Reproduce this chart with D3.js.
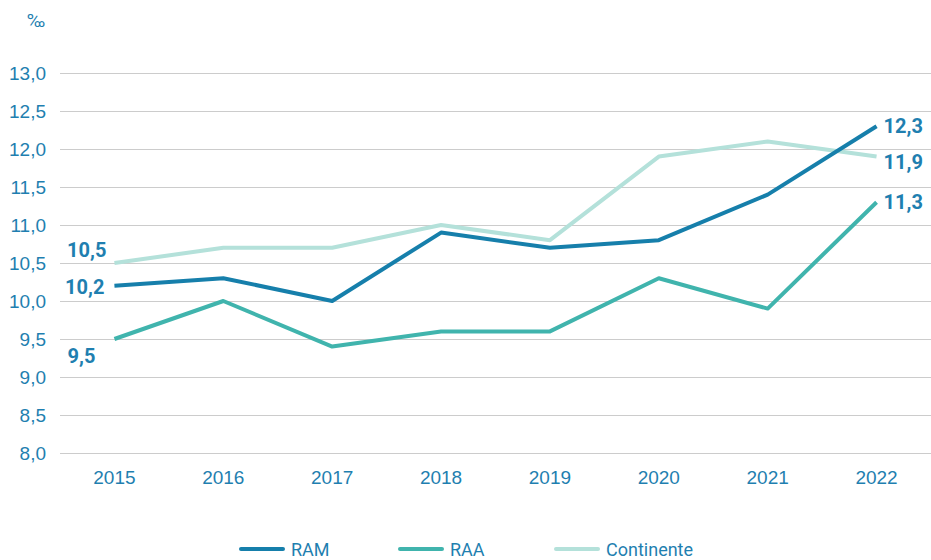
<!DOCTYPE html>
<html>
<head>
<meta charset="utf-8">
<script src="https://cdn.jsdelivr.net/npm/d3@7"></script>
<style>
  body { margin: 0; background: #fff; }
  svg { font-family: Roboto, sans-serif; }
  .tick text { fill: #1f7fb0; }
</style>
</head>
<body>
<svg width="931" height="560"></svg>
<script>
// data
const years = ["2015", "2016", "2017", "2018", "2019", "2020", "2021", "2022"];
const ram = [10.2, 10.3, 10.0, 10.9, 10.7, 10.8, 11.4, 12.3];
const raa = [9.5, 10.0, 9.4, 9.6, 9.6, 10.3, 9.9, 11.3];
const continente = [10.5, 10.7, 10.7, 11.0, 10.8, 11.9, 12.1, 11.9];
const yTicks = [8.0, 8.5, 9.0, 9.5, 10.0, 10.5, 11.0, 11.5, 12.0, 12.5, 13.0];

const series = [
    { name: "RAM", values: ram, color: "#167fab" },
    { name: "RAA", values: raa, color: "#40b4ad" },
    { name: "Continente", values: continente, color: "#b4e1da" }
];

const svg = d3.select("svg");
const textColor = "#1f7fb0";
const fmt = v => d3.format(".1f")(v).replace(".", ",");

const x = d3.scaleBand().domain(years).range([60, 931]);
const y = d3.scaleLinear().domain([8, 13]).range([453, 73]);
const cx = d => x(d) + x.bandwidth() / 2;

// gridlines + y labels
const yAxis = svg.append("g")
    .attr("transform", "translate(60,0)")
    .call(d3.axisLeft(y).tickValues(yTicks).tickFormat(fmt).tickSize(-871).tickPadding(14));
yAxis.select(".domain").remove();
yAxis.selectAll("line").attr("stroke", "#cccccc").attr("stroke-width", 1.2);
yAxis.selectAll("text").attr("font-size", 19);

const xAxis = svg.append("g")
    .attr("transform", "translate(0,453)")
    .call(d3.axisBottom(x).tickSize(0).tickPadding(18));
xAxis.select(".domain").remove();
xAxis.selectAll("text").attr("font-size", 19);

svg.append("text")
    .attr("x", 27).attr("y", 27)
    .attr("fill", textColor).attr("font-size", 19)
    .text("‰");

const line = d3.line()
    .x((d, i) => cx(years[i]))
    .y(d => y(d));

// draw the light one first so the others sit on top
[series[2], series[1], series[0]].forEach(s => {
    svg.append("path")
        .datum(s.values)
        .attr("fill", "none")
        .attr("stroke", s.color)
        .attr("stroke-width", 4)
        .attr("stroke-linejoin", "round")
        .attr("d", line);
});

// end labels
const last = years.length - 1;
const labels = [
    { v: continente[0], xv: cx(years[0]) - 8, yv: y(continente[0]) - 6, anchor: "end" },
    { v: ram[0], xv: cx(years[0]) - 10, yv: y(ram[0]) + 8, anchor: "end" },
    { v: raa[0], xv: cx(years[0]) - 19, yv: y(raa[0]) + 24, anchor: "end" },
    { v: ram[last], xv: cx(years[last]) + 7, yv: y(ram[last]) + 7, anchor: "start" },
    { v: continente[last], xv: cx(years[last]) + 7, yv: y(continente[last]) + 12, anchor: "start" },
    { v: raa[last], xv: cx(years[last]) + 7, yv: y(raa[last]) + 7, anchor: "start" }
];
svg.selectAll(".vlabel")
    .data(labels)
    .join("text")
    .attr("class", "vlabel")
    .attr("x", d => d.xv)
    .attr("y", d => d.yv)
    .attr("text-anchor", d => d.anchor)
    .attr("fill", textColor)
    .attr("font-size", 20)
    .attr("font-weight", "bold")
    .text(d => fmt(d.v));

// legend
const legendX = [241, 400, 556];
const legend = svg.selectAll(".legend")
    .data(series)
    .join("g")
    .attr("class", "legend")
    .attr("transform", (d, i) => `translate(${legendX[i]},549)`);
legend.append("line")
    .attr("x1", 0).attr("x2", 42)
    .attr("stroke", d => d.color)
    .attr("stroke-width", 4)
    .attr("stroke-linecap", "round");
legend.append("text")
    .attr("x", 50).attr("y", 6.5)
    .attr("fill", textColor)
    .attr("font-size", 18)
    .text(d => d.name);
</script>
</body>
</html>
